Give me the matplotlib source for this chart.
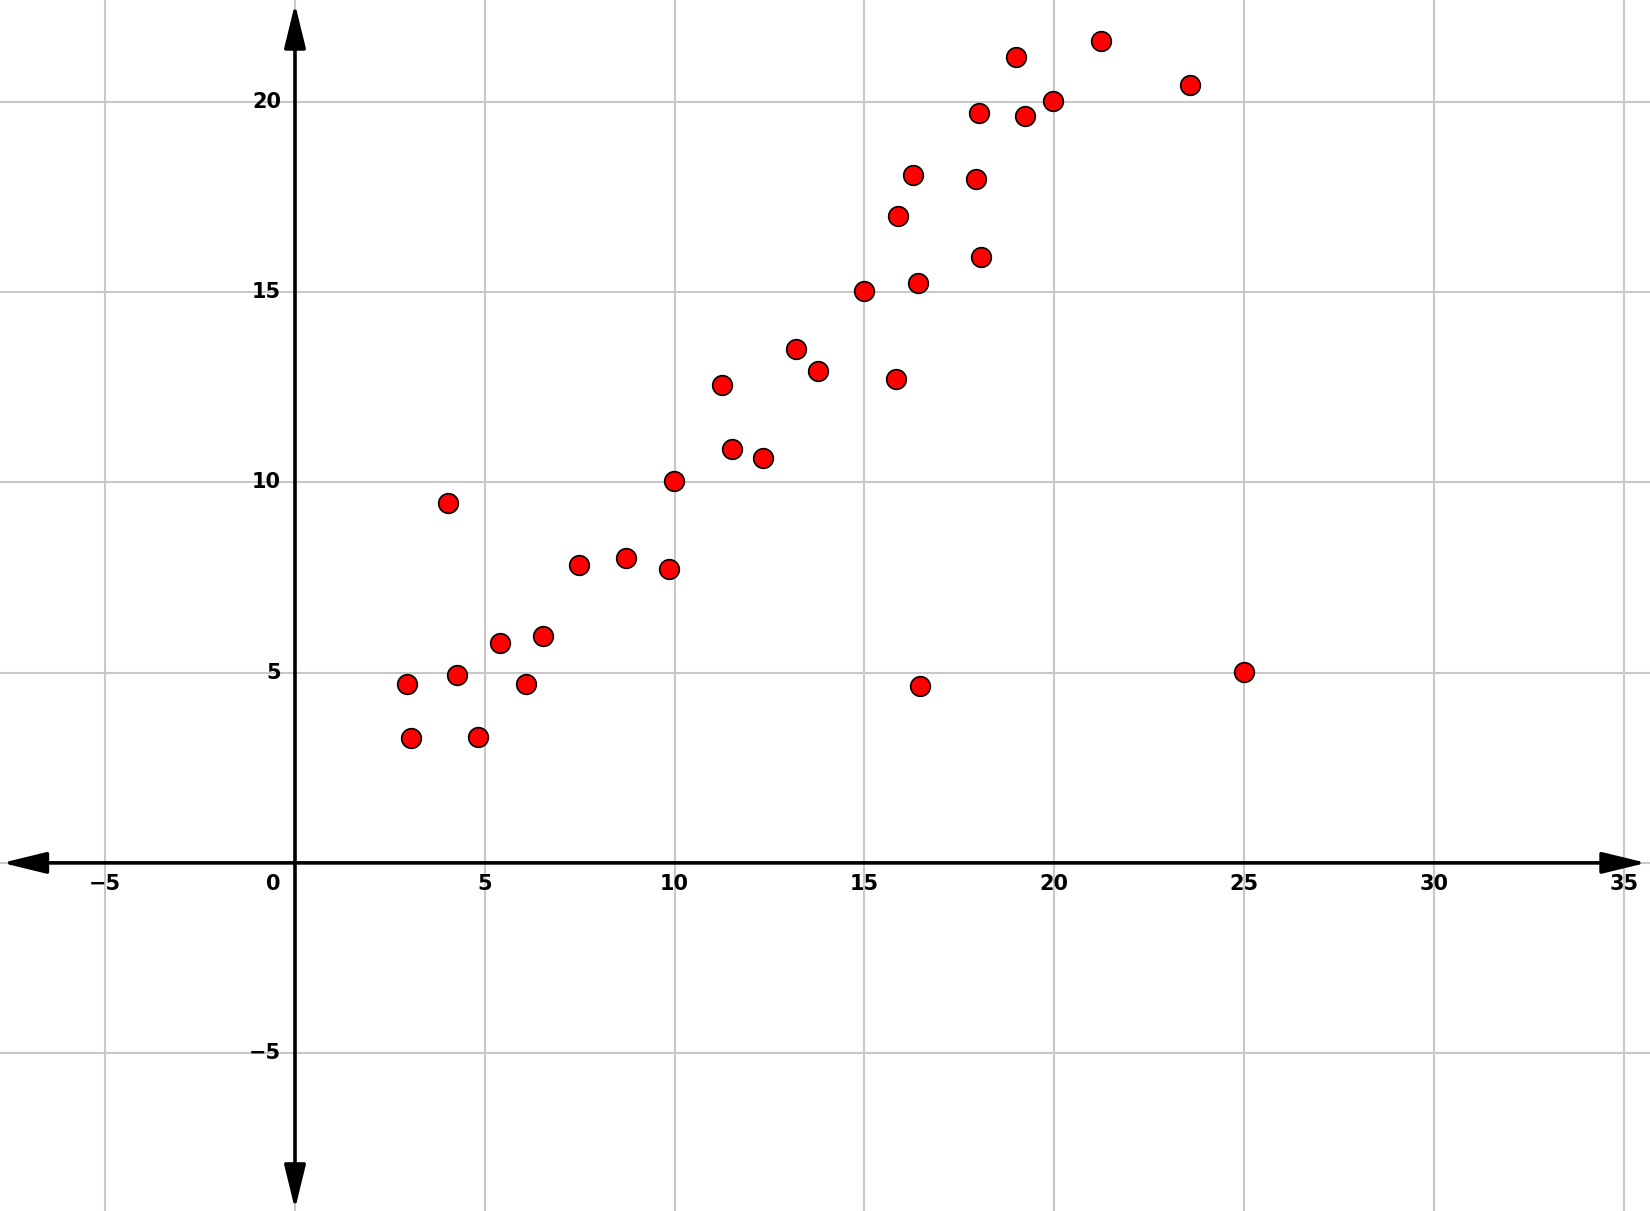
import matplotlib
matplotlib.use("Agg")
import matplotlib.pyplot as plt

# points
xs = [2.94, 3.05, 4.02, 4.27, 4.82, 5.40, 6.09, 6.54, 7.48, 8.73, 9.86, 9.97,
      11.25, 11.52, 12.33, 13.19, 13.77, 14.99, 15.82, 15.87, 16.29, 16.40,
      16.45, 17.95, 18.01, 18.06, 18.98, 19.22, 19.97, 21.22, 23.57, 24.99]
ys = [4.71, 3.27, 9.45, 4.93, 3.32, 5.79, 4.71, 5.96, 7.84, 8.01, 7.73, 10.03,
      12.55, 10.89, 10.64, 13.52, 12.94, 15.04, 12.71, 17.01, 18.09, 15.24,
      4.65, 17.98, 19.70, 15.93, 21.19, 19.64, 20.03, 21.61, 20.44, 5.01]

x_ticks = [-5, 5, 10, 15, 20, 25, 30, 35]
y_ticks = [-5, 5, 10, 15, 20]
xlim = (-7.77, 35.69)
ylim = (-9.15, 22.68)

fig = plt.figure(figsize=(16.5, 12.11), dpi=100)
ax = fig.add_axes([0, 0, 1, 1])
ax.set_xlim(*xlim)
ax.set_ylim(*ylim)
ax.axis('off')

gc = '#c8c8c8'
for x in range(-5, 40, 5):
    ax.axvline(x, color=gc, lw=1.5, zorder=1)
for y in range(-5, 25, 5):
    ax.axhline(y, color=gc, lw=1.5, zorder=1)

arrow = dict(arrowstyle='<|-|>,head_length=1.35,head_width=0.33', color='black',
             lw=2.6, mutation_scale=20, shrinkA=0, shrinkB=0)
ax.annotate('', xy=(xlim[1] - 0.1, 0), xytext=(xlim[0] + 0.06, 0), arrowprops=arrow, zorder=3)
ax.annotate('', xy=(0, ylim[1] - 0.1), xytext=(0, ylim[0] + 0.05), arrowprops=arrow, zorder=3)

fs = 15
for x in x_ticks:
    ax.annotate(str(x).replace('-', '\u2212'), xy=(x, 0), xytext=(0, -21),
                textcoords='offset pixels', ha='center', va='center',
                fontsize=fs, fontweight='bold')
ax.annotate('0', xy=(0, 0), xytext=(-22, -21), textcoords='offset pixels',
            ha='center', va='center', fontsize=fs, fontweight='bold')
for y in y_ticks:
    ax.annotate(str(y).replace('-', '\u2212'), xy=(0, y), xytext=(-14, 0),
                textcoords='offset pixels', ha='right', va='center',
                fontsize=fs, fontweight='bold')

ax.scatter(xs, ys, s=200, color='#ff0000', edgecolor='black', linewidth=1.2, zorder=5)

fig.savefig('out.png', dpi=100)
